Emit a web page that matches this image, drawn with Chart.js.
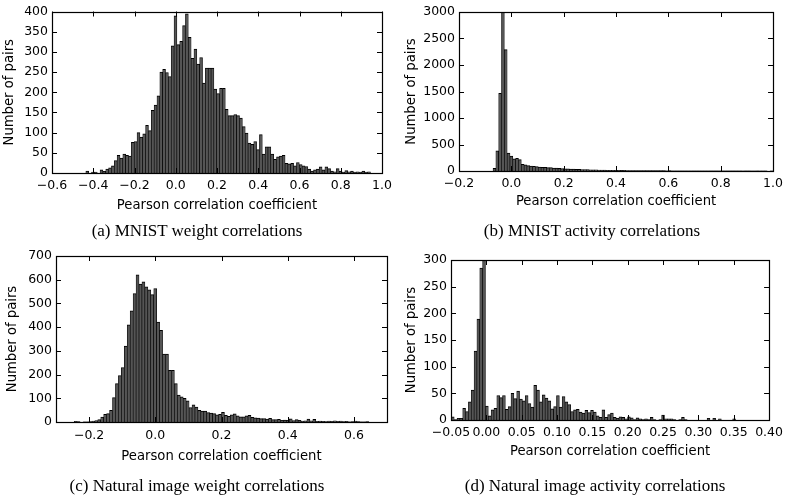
<!DOCTYPE html>
<html>
<head>
<meta charset="utf-8">
<script src="https://cdn.jsdelivr.net/npm/chart.js@4"></script>
<style>
html,body{margin:0;padding:0;background:#fff;}
#wrap{position:relative;width:788px;height:498px;overflow:hidden;background:#fff;}
canvas{position:absolute;left:0;top:0;}
.cap{position:absolute;font-family:"Liberation Serif","DejaVu Serif",serif;font-size:17px;line-height:17px;color:#000;white-space:nowrap;transform:translateX(-50%);}
</style>
</head>
<body>
<div id="wrap">
<canvas id="ca" width="788" height="498"></canvas>
<canvas id="cb" width="788" height="498"></canvas>
<canvas id="cc" width="788" height="498"></canvas>
<canvas id="cd" width="788" height="498"></canvas>
<div class="cap" style="left:197px;top:222px">(a) MNIST weight correlations</div>
<div class="cap" style="left:592px;top:222px">(b) MNIST activity correlations</div>
<div class="cap" style="left:197px;top:477px">(c) Natural image weight correlations</div>
<div class="cap" style="left:595px;top:477px">(d) Natural image activity correlations</div>
</div>
<script>
// ---------- data ----------
const xTitle = 'Pearson correlation coefficient';
const yTitle = 'Number of pairs';

// (a) MNIST weight correlations: 100 bins
const binStartA = -0.436, binWidthA = 0.0138;
const countsA = [5,0,2,2,0,8,4,10,13,18,
  31,44,37,47,44,42,76,78,100,89,
  97,118,105,155,168,191,250,257,249,239,
  315,389,318,326,365,394,336,284,307,270,
  286,223,260,260,260,208,197,210,210,158,
  142,142,145,142,136,115,99,74,71,78,
  58,95,47,65,65,47,34,40,42,44,
  24,23,24,18,26,21,18,16,10,5,
  8,10,15,8,15,11,5,3,11,5,
  2,6,3,5,2,3,2,5,2,3];
const xTicksA = [-0.6,-0.4,-0.2,0.0,0.2,0.4,0.6,0.8,1.0];
const yTicksA = [0,50,100,150,200,250,300,350,400];

// (b) MNIST activity correlations
const binStartB = -0.070, binWidthB = 0.0108;
const countsB = [50,380,1465,3000,2290,340,280,230,240,215,
  125,115,100,95,88,82,76,70,70,63,
  63,57,55,50,48,42,40,38,34,30,
  30,28,25,26,22,20,22,18,17,16,
  15,14,14,12,12,11,12,10,10,9,
  10,8,9,8,7,8,7,6,7,6,
  6,5,6,5,5,4,5,4,4,5,
  4,3,4,3,4,3,3,4,2,3,
  3,2,3,2,2,3,2,2,1,2,
  2,1,1,2,1,1,1,0,1,1];
const xTicksB = [-0.2,0.0,0.2,0.4,0.6,0.8,1.0];
const yTicksB = [0,500,1000,1500,2000,2500,3000];

// (c) Natural image weight correlations
const binStartC = -0.245, binWidthC = 0.0089;
const countsC = [3,2,0,1,1,2,4,6,10,21,
  32,35,49,103,162,196,230,320,410,469,
  542,621,582,591,570,557,537,563,421,387,
  286,286,218,218,162,114,106,100,89,61,
  72,63,49,46,46,40,38,35,30,32,
  41,28,24,30,34,26,22,22,26,28,
  20,18,17,14,14,12,15,10,10,11,
  7,8,7,13,6,10,7,4,5,12,
  5,11,3,4,3,2,4,3,5,3,
  4,2,3,1,2,4,2,1,1,2];
const xTicksC = [-0.2,0.0,0.2,0.4,0.6];
const yTicksC = [0,100,200,300,400,500,600,700];

// (d) Natural image activity correlations
const binStartD = -0.0495, binWidthD = 0.00402;
const countsD = [6,1,3,3,22,16,34,56,129,189,
  285,300,26,8,19,22,46,42,46,20,
  25,50,40,54,39,36,46,31,24,65,
  56,34,47,41,36,21,25,46,24,44,
  34,29,16,19,20,15,13,18,14,18,
  15,8,5,19,5,10,13,5,3,6,
  5,2,6,4,1,4,2,1,2,1,
  5,1,0,1,9,2,2,2,1,0,
  1,5,1,0,0,0,0,0,0,0,
  3,0,3,0,2,0,0,0,0,2];
const xTicksD = [-0.05,0.00,0.05,0.10,0.15,0.20,0.25,0.30,0.35,0.40];
const yTicksD = [0,50,100,150,200,250,300];

// ---------- drawing ----------
Chart.defaults.font.family = '"DejaVu Sans", sans-serif';
Chart.defaults.font.size = 12.5;
Chart.defaults.color = '#000';
const titleFont = {family: '"DejaVu Sans", sans-serif', size: 13.2};

const framePlugin = {
  id: 'frame',
  afterDatasetsDraw(chart) {
    const ctx = chart.ctx, a = chart.chartArea, xs = chart.scales.x, ys = chart.scales.y;
    const len = 5;
    ctx.save();
    ctx.strokeStyle = '#000';
    ctx.lineWidth = 1;
    ctx.beginPath();
    xs.ticks.forEach(t => {
      const px = Math.round(xs.getPixelForValue(t.value)) + 0.5;
      ctx.moveTo(px, a.bottom); ctx.lineTo(px, a.bottom - len);
      ctx.moveTo(px, a.top); ctx.lineTo(px, a.top + len);
    });
    ys.ticks.forEach(t => {
      const py = Math.round(ys.getPixelForValue(t.value)) + 0.5;
      ctx.moveTo(a.left, py); ctx.lineTo(a.left + len, py);
      ctx.moveTo(a.right, py); ctx.lineTo(a.right - len, py);
    });
    ctx.stroke();
    ctx.lineWidth = 1.2;
    ctx.strokeRect(Math.round(a.left) + 0.5, Math.round(a.top) + 0.5,
      Math.round(a.right) - Math.round(a.left), Math.round(a.bottom) - Math.round(a.top));
    ctx.restore();
  }
};

function fmt(v, dec) {
  const s = Math.abs(v).toFixed(dec);
  return (v < -1e-9 ? '\u2212' : '') + s;
}

function makeHist(id, counts, start, width, xmin, xmax, xTicks, dec, yTicks, box) {
  const pts = counts.map((c, i) => ({x: start + (i + 0.5) * width, y: c}));
  new Chart(document.getElementById(id), {
    type: 'bar',
    data: {datasets: [{
      data: pts,
      backgroundColor: '#555555',
      borderColor: '#000',
      borderWidth: {top: 1, left: 0.65, right: 0.65, bottom: 0},
      barPercentage: 1,
      categoryPercentage: 1
    }]},
    options: {
      responsive: false,
      animation: false,
      devicePixelRatio: 1,
      events: [],
      layout: {padding: {left: box.L - box.W, top: box.T, right: 788 - box.R, bottom: 498 - box.B - box.H}},
      plugins: {legend: {display: false}, tooltip: {enabled: false}},
      scales: {
        x: {
          type: 'linear', min: xmin, max: xmax, offset: false,
          grid: {display: false, drawTicks: false},
          border: {display: false},
          afterBuildTicks: s => { s.ticks = xTicks.map(v => ({value: v})); },
          ticks: {autoSkip: false, maxRotation: 0, minRotation: 0, padding: box.xpad,
                  callback: v => fmt(v, dec)},
          title: {display: true, text: xTitle, padding: 0, font: titleFont},
          afterFit: s => { s.height = box.H; }
        },
        y: {
          type: 'linear', min: 0, max: yTicks[yTicks.length - 1],
          grid: {display: false, drawTicks: false},
          border: {display: false},
          afterBuildTicks: s => { s.ticks = yTicks.map(v => ({value: v})); },
          ticks: {autoSkip: false, padding: 4, callback: v => String(v)},
          title: {display: true, text: yTitle, padding: 0, font: titleFont},
          afterFit: s => { s.width = box.W; }
        }
      }
    },
    plugins: [framePlugin]
  });
}

makeHist('ca', countsA, binStartA, binWidthA, -0.6, 1.0, xTicksA, 1, yTicksA,
  {L: 52, R: 382, T: 8, B: 173, W: 50, H: 40.5, xpad: 5});
makeHist('cb', countsB, binStartB, binWidthB, -0.2, 1.0, xTicksB, 1, yTicksB,
  {L: 459, R: 775, T: 12, B: 171, W: 55, H: 38.5, xpad: 5});
makeHist('cc', countsC, binStartC, binWidthC, -0.3, 0.7, xTicksC, 1, yTicksC,
  {L: 56, R: 387, T: 256, B: 422, W: 51, H: 42.5, xpad: 6});
makeHist('cd', countsD, binStartD, binWidthD, -0.05, 0.40, xTicksD, 2, yTicksD,
  {L: 451, R: 771, T: 260, B: 420, W: 47, H: 39.5, xpad: 5});
</script>
</body>
</html>
